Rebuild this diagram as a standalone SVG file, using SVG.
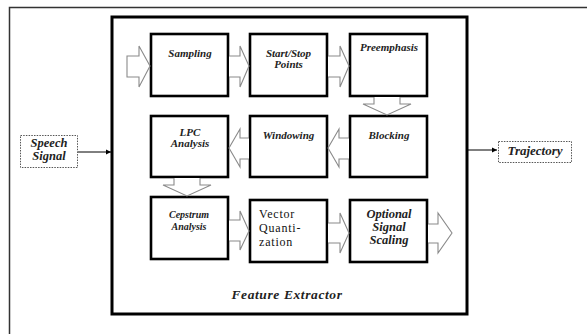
<svg xmlns="http://www.w3.org/2000/svg" width="587" height="334" viewBox="0 0 587 334">
<style>
.box{fill:#fff;stroke:#000;stroke-width:2.6}
.big{fill:none;stroke:#000;stroke-width:3}
.blk{fill:#fff;stroke:#8a8a8a;stroke-width:1.1;stroke-linejoin:miter}
.dot{fill:#fff;stroke:#555;stroke-width:1;stroke-dasharray:1.5 1.2}
text{font-family:'Liberation Serif','Times New Roman',Times,serif}
.t{font-weight:bold;font-style:italic;fill:#222;text-anchor:middle}
.r{fill:#111;font-size:12px;letter-spacing:0.8px}
.line{stroke:#000;stroke-width:1;fill:none}
</style>
<defs>
<marker id="ah" markerWidth="6" markerHeight="6" refX="5" refY="3" orient="auto" markerUnits="userSpaceOnUse">
<path d="M0,0.5 L5,3 L0,5.5 Z" fill="#000"/>
</marker>
</defs>
<rect width="587" height="334" fill="#fff"/>
<path d="M9.5,340 L9.5,7.5 L600,7.5" fill="none" stroke="#333" stroke-width="1.5"/>

<g id="feature-extractor">
<rect class="big" x="112" y="17" width="355" height="297"/>
<text class="t" x="287" y="299" font-size="13.5" letter-spacing="0.6">Feature Extractor</text>
</g>

<g id="speech-signal">
<rect class="dot" x="20.5" y="135.5" width="57" height="32"/>
<text class="t" x="49" y="147" font-size="12.5">Speech</text>
<text class="t" x="49" y="160" font-size="12.5">Signal</text>
</g>

<g id="trajectory">
<rect class="dot" x="498.5" y="141.5" width="73" height="21"/>
<text class="t" x="535" y="155" font-size="13">Trajectory</text>
</g>

<g id="sampling">
<rect class="box" x="151" y="34" width="77" height="62"/>
<text class="t" x="190" y="57" font-size="11">Sampling</text>
</g>
<g id="start-stop">
<rect class="box" x="250" y="34" width="77" height="62"/>
<text class="t" x="288.5" y="57" font-size="11">Start/Stop</text>
<text class="t" x="288.5" y="68" font-size="11">Points</text>
</g>
<g id="preemphasis">
<rect class="box" x="350" y="34" width="77" height="62"/>
<text class="t" x="389" y="51" font-size="11">Preemphasis</text>
</g>
<g id="lpc">
<rect class="box" x="151" y="116" width="77" height="61"/>
<text class="t" x="190" y="136" font-size="11">LPC</text>
<text class="t" x="190" y="147" font-size="11">Analysis</text>
</g>
<g id="windowing">
<rect class="box" x="250" y="116" width="77" height="61"/>
<text class="t" x="288.5" y="139" font-size="11">Windowing</text>
</g>
<g id="blocking">
<rect class="box" x="350" y="116" width="77" height="61"/>
<text class="t" x="389" y="139" font-size="11">Blocking</text>
</g>
<g id="cepstrum">
<rect class="box" x="151" y="197" width="77" height="62"/>
<text class="t" x="189" y="218" font-size="10">Cepstrum</text>
<text class="t" x="189" y="230" font-size="10">Analysis</text>
</g>
<g id="vector-quantization">
<rect class="box" x="250" y="200" width="77" height="62"/>
<text class="r" x="259" y="218">Vector</text>
<text class="r" x="259" y="232">Quanti-</text>
<text class="r" x="259" y="246">zation</text>
</g>
<g id="optional-scaling">
<rect class="box" x="350" y="200" width="77" height="62"/>
<text class="t" x="389" y="218" font-size="12.5">Optional</text>
<text class="t" x="389" y="231" font-size="12.5">Signal</text>
<text class="t" x="389" y="244" font-size="12.5">Scaling</text>
</g>

<g id="connectors">
<line class="line" x1="78" y1="152" x2="111" y2="152" marker-end="url(#ah)"/>
<line class="line" x1="467" y1="150" x2="497" y2="150" marker-end="url(#ah)"/>
<path class="blk" d="M127,56 L139,56 L139,46 L150,66 L139,87 L139,77 L127,77 Z"/>
<path class="blk" d="M229,56 L240,56 L240,46 L249,66 L240,87 L240,77 L229,77"/>
<path class="blk" d="M328,56 L340,56 L340,46 L349,66 L340,87 L340,77 L328,77"/>
<path class="blk" d="M374,97 L374,104 L363,104 L387,115 L411,104 L400,104 L400,97"/>
<path class="blk" d="M349,138 L339,138 L339,129 L328,148 L339,167 L339,159 L349,159"/>
<path class="blk" d="M249,138 L240,138 L240,129 L229,148 L240,167 L240,159 L249,159"/>
<path class="blk" d="M174,178 L174,185 L163,185 L187,196 L211,185 L200,185 L200,178"/>
<path class="blk" d="M229,220 L240,220 L240,211 L249,231 L240,250 L240,241 L229,241"/>
<path class="blk" d="M328,223 L340,223 L340,213 L349,233 L340,253 L340,243 L328,243"/>
<path class="blk" d="M428,224 L438,224 L438,213 L452,233 L438,253 L438,243 L428,243"/>
</g>
</svg>
